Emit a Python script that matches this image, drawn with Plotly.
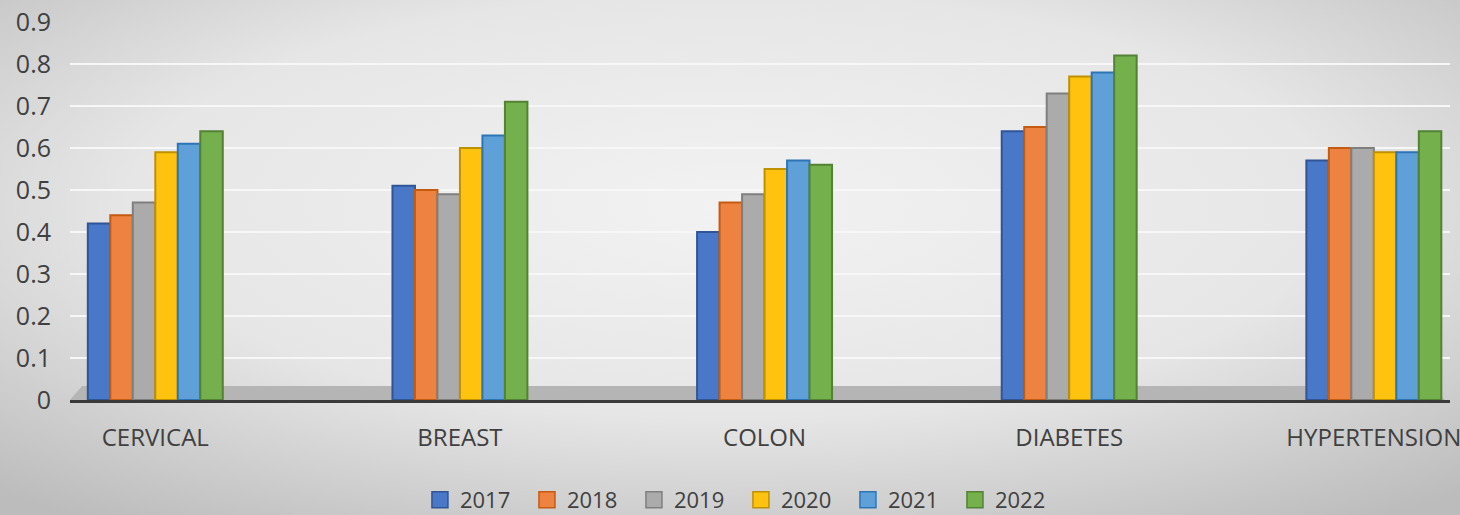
import base64
import plotly.graph_objects as go

categories = ["CERVICAL", "BREAST", "COLON", "DIABETES", "HYPERTENSION"]
years = ["2017", "2018", "2019", "2020", "2021", "2022"]
v2017 = [0.42, 0.51, 0.40, 0.64, 0.57]
v2018 = [0.44, 0.50, 0.47, 0.65, 0.60]
v2019 = [0.47, 0.49, 0.49, 0.73, 0.60]
v2020 = [0.59, 0.60, 0.55, 0.77, 0.59]
v2021 = [0.61, 0.63, 0.57, 0.78, 0.59]
v2022 = [0.64, 0.71, 0.56, 0.82, 0.64]
series = [v2017, v2018, v2019, v2020, v2021, v2022]
y_ticks = [0, 0.1, 0.2, 0.3, 0.4, 0.5, 0.6, 0.7, 0.8, 0.9]
y_labels = ["0", "0.1", "0.2", "0.3", "0.4", "0.5", "0.6", "0.7", "0.8", "0.9"]

fills = ["#4A78C8", "#EE8240", "#ABABAB", "#FFC30F", "#5FA0D8", "#74B04B"]
edges = ["#2F5597", "#C55A11", "#7F7F7F", "#BF9000", "#2E75B6", "#538135"]

W, H = 1460, 515
ML, MR, MT, MB = 70, 10, 22, 115
pw, ph = W - ML - MR, H - MT - MB

svg = f'''<svg xmlns="http://www.w3.org/2000/svg" width="{W}" height="{H}" preserveAspectRatio="none">
<defs><radialGradient id="g" cx="50%" cy="40%" r="75%">
<stop offset="0%" stop-color="#f2f2f2"/><stop offset="55%" stop-color="#e6e6e6"/>
<stop offset="100%" stop-color="#bcbcbc"/></radialGradient></defs>
<rect width="{W}" height="{H}" fill="url(#g)"/></svg>'''
src = "data:image/svg+xml;base64," + base64.b64encode(svg.encode()).decode()

fig = go.Figure()
for name, vals, fc, ec in zip(years, series, fills, edges):
    fig.add_trace(go.Bar(
        x=categories, y=vals, name=name, showlegend=False, legendgroup=name,
        marker=dict(color=fc, line=dict(color=ec, width=2)),
    ))
# legend entries with larger square swatches
for name, fc, ec in zip(years, fills, edges):
    fig.add_trace(go.Scatter(
        x=[None], y=[None], mode="markers", name=name, legendgroup=name,
        marker=dict(symbol="square", size=16, color=fc, line=dict(color=ec, width=1.5)),
    ))

fig.add_layout_image(dict(
    source=src, xref="paper", yref="paper",
    x=-ML / pw, y=1 + MT / ph, sizex=W / pw, sizey=H / ph,
    xanchor="left", yanchor="top", sizing="stretch", layer="below",
))

# floor band behind bars
fig.add_shape(type="path", xref="paper", yref="paper",
              path=f"M 0 0 L {12/pw} {14/ph} L {1360/pw} {14/ph} L {1375/pw} 0 Z",
              fillcolor="#b5b5b5", line=dict(width=0), layer="below")

fig.update_layout(
    width=W, height=H,
    margin=dict(l=ML, r=MR, t=MT, b=MB, autoexpand=False),
    paper_bgcolor="rgba(0,0,0,0)", plot_bgcolor="rgba(0,0,0,0)",
    barmode="group", bargap=0.557, bargroupgap=0,
    font=dict(family="Open Sans, sans-serif", color="#404040"),
    showlegend=True,
    legend=dict(orientation="h", xref="container", yref="container",
                x=0.5075, xanchor="center", y=1 - 500 / H, yanchor="middle",
                font=dict(size=22, color="#404040"), bgcolor="rgba(0,0,0,0)",
                itemwidth=30, entrywidth=62, traceorder="normal"),
    xaxis=dict(range=[-0.28, 4.25], showgrid=False, showline=True, automargin=False,
               linecolor="#3a3a3a", linewidth=3, ticks="",
               tickfont=dict(size=24, color="#404040"), ticklabelstandoff=14),
    yaxis=dict(range=[0, 0.9], tickvals=y_ticks, ticktext=y_labels, automargin=False,
               showgrid=True, gridcolor="#f7f7f7", gridwidth=2, zeroline=False,
               showline=False, tickfont=dict(size=25, color="#404040"),
               ticklabelstandoff=18),
)

fig.write_html("out.html", config={"displayModeBar": False},
               post_script="document.body.style.margin='0';document.body.style.overflow='hidden';")
